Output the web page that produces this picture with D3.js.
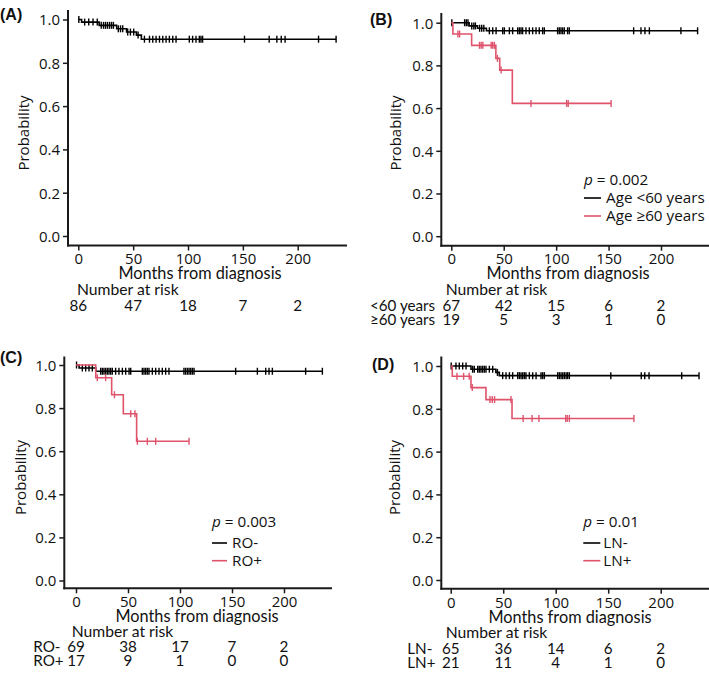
<!DOCTYPE html>
<html><head><meta charset="utf-8">
<script src="https://cdn.jsdelivr.net/npm/d3@7"></script>
<style>body{margin:0;background:#fff}</style>
</head><body>
<svg id="chart" width="709" height="674"></svg>
<script>
// ---------------- data ----------------
const yTicks = [0, 0.2, 0.4, 0.6, 0.8, 1.0];
const xTicks = [0, 50, 100, 150, 200];
const xTitle = "Months from diagnosis";
const yTitle = "Probability";
const riskTitle = "Number at risk";
const panelLabels = ["(A)", "(B)", "(C)", "(D)"];

// Panel A (all patients)
const aTimes = [0, 3, 19, 35, 44, 53, 57.5];
const aSurv = [1, 0.988, 0.973, 0.957, 0.942, 0.928, 0.909];
const aCensor = [0.5, 5.8, 9.5, 13.4, 17.3, 20.9, 23, 24.8, 26.6, 28.5, 30.3, 32, 36.5, 38.5, 40.5, 45, 47.5, 50.5, 54.5,
  60.3, 64.9, 67.9, 70.9, 74, 77, 80, 83, 86.1, 89.1, 101.2, 104.2, 107.3, 110.3, 111.8, 113.3, 151.5, 174, 181, 185, 188.5, 219, 235];
const aRisk = [86, 47, 18, 7, 2];

// Panel B (age)
const bNames = ["Age <60 years", "Age \u226560 years"];
const bRiskNames = ["<60 years", "\u226560 years"];
const bP = "0.002";
const bBlackTimes = [0, 17, 25, 33.5];
const bBlackSurv = [1, 0.985, 0.974, 0.962];
const bBlackCensor = [0.5, 12.7, 14.3, 15.9, 19.5, 21.5, 23, 27, 29, 31, 36.3, 39.5, 42.7, 49, 50.6, 55.4, 58.5, 63.3, 64.9, 66.5, 68,
  71.2, 74.4, 77.6, 80.8, 83.9, 87.1, 88.7, 101.4, 103, 104.6, 106.2, 107.8, 110.9, 112.5, 173.9, 180.9, 184.7, 188.9, 219, 234.9];
const bRedTimes = [0, 1.5, 19.4, 42.5, 46.2, 58.2];
const bRedSurv = [1, 0.947, 0.894, 0.833, 0.778, 0.622];
const bRedCensor = [6.3, 7.9, 26.9, 28.5, 30.1, 38, 39.5, 41.1, 44, 47.5, 76, 110, 111.5, 152.4];
const bRiskBlack = [67, 42, 15, 6, 2];
const bRiskRed = [19, 5, 3, 1, 0];

// Panel C (RO)
const cNames = ["RO-", "RO+"];
const cP = "0.003";
const cBlackTimes = [0, 3, 19];
const cBlackSurv = [1, 0.986, 0.971];
const cBlackCensor = [0.5, 6.1, 9.3, 12.5, 15.7, 23.7, 25.3, 26.9, 28.5, 30.1, 31.7, 33.3, 34.9, 38.1, 41.3, 44.6, 47.8, 51, 52.6,
  63.8, 65.4, 67, 68.6, 70.2, 73.4, 76.6, 79.8, 83, 86.2, 89.4, 103.8, 105.4, 107.1, 108.7, 110.3, 111.9, 113.5, 153.5, 174.4,
  182.4, 185.6, 188.8, 220.8, 236.9];
const cRedTimes = [0, 19, 34.3, 45.5, 58.3];
const cRedSurv = [1, 0.941, 0.862, 0.774, 0.646];
const cRedCensor = [20.5, 28.5, 37, 52.6, 56.7, 59, 68.6, 76.6, 108.7];
const cRiskBlack = [69, 38, 17, 7, 2];
const cRiskRed = [17, 9, 1, 0, 0];

// Panel D (LN)
const dNames = ["LN-", "LN+"];
const dP = "0.01";
const dBlackTimes = [0, 19.3, 43, 46.3];
const dBlackSurv = [1, 0.985, 0.97, 0.955];
const dBlackCensor = [0.5, 5, 8.2, 11.4, 14.6, 20.9, 22.5, 25.7, 27.2, 28.8, 30.4, 32, 33.6, 36.8, 40, 44.5, 49.5, 52.7, 55.9, 59,
  63.8, 65.4, 67, 68.6, 70.2, 71.7, 74.9, 78.1, 81.3, 86, 87.6, 89.2, 101.9, 103.5, 105.1, 106.7, 108.3, 109.9, 111.4, 113,
  152.5, 181.5, 184.8, 188.9, 220, 236.5];
const dRedTimes = [0, 1.5, 19.3, 33.6, 58.4];
const dRedSurv = [1, 0.952, 0.899, 0.843, 0.755];
const dRedCensor = [6, 12.3, 17.6, 20.5, 37.4, 39.6, 41.8, 57.4, 69, 77.5, 84, 109.5, 111, 113, 174.5];
const dRiskBlack = [65, 36, 14, 6, 2];
const dRiskRed = [21, 11, 4, 1, 0];

const BLACK = "#000000";
const RED = "#DF536B";

// ---------------- drawing ----------------
const svg = d3.select("#chart");
const tickFont = "'Open Sans', 'DejaVu Sans', sans-serif";
const calFont = "Lato, 'Open Sans', sans-serif";

function measure(text, family, size, weight, style) {
  const t = svg.append("text").attr("font-family", family).attr("font-size", size)
    .attr("font-weight", weight || "normal").attr("font-style", style || "normal").text(text);
  const w = t.node().getComputedTextLength();
  t.remove();
  return w;
}
const riskSize = 100 * 101.7 / measure(riskTitle, calFont, 100);
const rowSize = Math.min(riskSize, 15.2);
const xTitleSize = 100 * 163.3 / measure(xTitle, calFont, 100);
const legSize = 100 * 98.7 / measure(bNames[0], tickFont, 100);
const tickSize = 15;

function stepValue(times, surv, t) {
  let v = surv[0];
  for (let i = 0; i < times.length; i++) if (times[i] <= t) v = surv[i];
  return v;
}

function drawPanel(L, D) {
  const g = svg.append("g");
  const x = d3.scaleLinear().domain([0, 200]).range([L.x0, L.x200]);
  const y = d3.scaleLinear().domain([0, 1]).range([L.yBot, L.yTop]);

  // axis lines (L-shaped)
  g.append("line").attr("x1", L.axisX).attr("x2", L.axisX).attr("y1", L.axisTop).attr("y2", L.axisY + 1)
    .attr("stroke", "#1a1a1a").attr("stroke-width", 2);
  g.append("line").attr("x1", L.axisX - 1).attr("x2", L.axisRight).attr("y1", L.axisY).attr("y2", L.axisY)
    .attr("stroke", "#1a1a1a").attr("stroke-width", 2);

  // y axis ticks
  const yAx = g.append("g").attr("transform", `translate(${L.axisX},0)`)
    .call(d3.axisLeft(y).tickValues(yTicks).tickFormat(d3.format(".1f")).tickSize(5).tickPadding(3));
  yAx.select(".domain").remove();
  yAx.selectAll("line").attr("stroke", "#1a1a1a").attr("stroke-width", 1.5);
  yAx.selectAll("text").attr("font-family", tickFont).attr("font-size", tickSize).attr("fill", "#111")
    .attr("dy", null).attr("dominant-baseline", null).attr("y", tickSize * 0.36);

  // x axis ticks
  const xAx = g.append("g").attr("transform", `translate(0,${L.axisY})`)
    .call(d3.axisBottom(x).tickValues(xTicks).tickFormat(d3.format("d")).tickSize(5));
  xAx.select(".domain").remove();
  xAx.selectAll("line").attr("stroke", "#1a1a1a").attr("stroke-width", 1.5);
  xAx.selectAll("text").attr("font-family", tickFont).attr("font-size", tickSize).attr("fill", "#111")
    .attr("dy", null).attr("y", L.tickLabY - L.axisY + tickSize * 0.36);

  // titles
  g.append("text").attr("transform", `translate(${L.probX},${L.probY}) rotate(-90)`)
    .attr("text-anchor", "middle").attr("y", tickSize * 0.36)
    .attr("font-family", tickFont).attr("font-size", tickSize).attr("fill", "#111").text(yTitle);
  g.append("text").attr("x", L.xTitleX).attr("y", L.xTitleY + xTitleSize * 0.36).attr("text-anchor", "middle")
    .attr("font-family", calFont).attr("font-size", xTitleSize).attr("fill", "#111").text(xTitle);
  g.append("text").attr("x", L.labX).attr("y", L.labY).attr("font-family", "'Liberation Sans', Arial, sans-serif")
    .attr("font-weight", "bold").attr("font-size", 16).attr("fill", "#111").text(L.label);

  // curves
  const line = d3.line().x(d => x(d[0])).y(d => y(d[1])).curve(d3.curveStepAfter);
  D.curves.forEach(c => {
    const end = Math.max(d3.max(c.censor), d3.max(c.times));
    const pts = c.times.map((t, i) => [t, c.surv[i]]);
    pts.push([end, c.surv[c.surv.length - 1]]);
    g.append("path").attr("d", line(pts)).attr("fill", "none").attr("stroke", c.color).attr("stroke-width", 1.6);
    g.selectAll(null).data(c.censor).enter().append("line")
      .attr("x1", t => x(t)).attr("x2", t => x(t))
      .attr("y1", t => y(stepValue(c.times, c.surv, t)) - 3.5)
      .attr("y2", t => y(stepValue(c.times, c.surv, t)) + 3.5)
      .attr("stroke", c.color).attr("stroke-width", 1.4);
  });

  // legend
  if (D.legend) {
    const lg = D.legend;
    const pt = g.append("text").attr("x", L.legX).attr("y", L.legPY + legSize * 0.36)
      .attr("font-family", tickFont).attr("font-size", legSize).attr("fill", "#111");
    pt.append("tspan").attr("font-style", "italic").text("p");
    pt.append("tspan").text(" = " + lg.p);
    lg.items.forEach((it, i) => {
      const yy = L.legItemY[i];
      g.append("line").attr("x1", L.legX).attr("x2", L.legX + L.legLineW).attr("y1", yy).attr("y2", yy)
        .attr("stroke", it.color).attr("stroke-width", 1.6);
      g.append("text").attr("x", L.legX + L.legLineW + L.legGap).attr("y", yy + legSize * 0.36)
        .attr("font-family", tickFont).attr("font-size", legSize).attr("fill", "#111").text(it.name);
    });
  }

  // risk table
  g.append("text").attr("x", L.narX).attr("y", L.narY + riskSize * 0.36)
    .attr("font-family", calFont).attr("font-size", riskSize).attr("fill", "#111").text(riskTitle);
  D.risk.forEach((r, i) => {
    const yy = L.rowY[i] + rowSize * 0.36;
    if (r.name) g.append("text").attr("x", L.rowLabX).attr("y", yy)
      .attr("font-family", calFont).attr("font-size", rowSize).attr("fill", "#111").text(r.name);
    g.selectAll(null).data(r.values).enter().append("text")
      .attr("x", (v, j) => x(xTicks[j])).attr("y", yy).attr("text-anchor", "middle")
      .attr("font-family", calFont).attr("font-size", rowSize).attr("fill", "#111").text(v => v);
  });
}

// layouts
const layoutA = { x0: 78.3, x200: 297.7, yTop: 19.5, yBot: 236, axisX: 68, axisY: 245.5, axisTop: 10, axisRight: 347,
  tickLabY: 258.5, probX: 24, probY: 133, xTitleX: 200, xTitleY: 273.5, labX: 0, labY: 19.5, label: panelLabels[0],
  narX: 77, narY: 289.5, rowY: [305.5], rowLabX: 0 };
const layoutB = { x0: 451.3, x200: 661, yTop: 22.7, yBot: 236.2, axisX: 441.3, axisY: 245.7, axisTop: 13, axisRight: 712,
  tickLabY: 258.5, probX: 395.5, probY: 133, xTitleX: 568, xTitleY: 273.5, labX: 370, labY: 24.5, label: panelLabels[1],
  legX: 584, legPY: 180, legItemY: [198, 216], legLineW: 17, legGap: 5,
  narX: 445.7, narY: 289.5, rowY: [305.5, 319.5], rowLabX: 370 };
const layoutC = { x0: 76, x200: 284, yTop: 365, yBot: 580.5, axisX: 64.3, axisY: 588.3, axisTop: 356.5, axisRight: 332,
  tickLabY: 601.7, probX: 20.5, probY: 477.5, xTitleX: 197, xTitleY: 616.5, labX: 0, labY: 363, label: panelLabels[2],
  legX: 212, legPY: 522, legItemY: [543, 560.7], legLineW: 15, legGap: 5,
  narX: 71.7, narY: 631, rowY: [647, 661], rowLabX: 33.3 };
const layoutD = { x0: 450.7, x200: 660.7, yTop: 366, yBot: 580, axisX: 441.3, axisY: 588.7, axisTop: 356.5, axisRight: 712,
  tickLabY: 602.5, probX: 394.5, probY: 477.5, xTitleX: 570, xTitleY: 617.5, labX: 372, labY: 370, label: panelLabels[3],
  legX: 583.3, legPY: 522, legItemY: [543, 560.7], legLineW: 17, legGap: 3,
  narX: 445.7, narY: 632, rowY: [648.5, 662.5], rowLabX: 407.3 };

drawPanel(layoutA, {
  curves: [{ times: aTimes, surv: aSurv, censor: aCensor, color: BLACK }],
  risk: [{ name: null, values: aRisk }]
});
drawPanel(layoutB, {
  curves: [{ times: bBlackTimes, surv: bBlackSurv, censor: bBlackCensor, color: BLACK },
           { times: bRedTimes, surv: bRedSurv, censor: bRedCensor, color: RED }],
  legend: { p: bP, items: [{ name: bNames[0], color: BLACK }, { name: bNames[1], color: RED }] },
  risk: [{ name: bRiskNames[0], values: bRiskBlack }, { name: bRiskNames[1], values: bRiskRed }]
});
drawPanel(layoutC, {
  curves: [{ times: cBlackTimes, surv: cBlackSurv, censor: cBlackCensor, color: BLACK },
           { times: cRedTimes, surv: cRedSurv, censor: cRedCensor, color: RED }],
  legend: { p: cP, items: [{ name: cNames[0], color: BLACK }, { name: cNames[1], color: RED }] },
  risk: [{ name: cNames[0], values: cRiskBlack }, { name: cNames[1], values: cRiskRed }]
});
drawPanel(layoutD, {
  curves: [{ times: dBlackTimes, surv: dBlackSurv, censor: dBlackCensor, color: BLACK },
           { times: dRedTimes, surv: dRedSurv, censor: dRedCensor, color: RED }],
  legend: { p: dP, items: [{ name: dNames[0], color: BLACK }, { name: dNames[1], color: RED }] },
  risk: [{ name: dNames[0], values: dRiskBlack }, { name: dNames[1], values: dRiskRed }]
});
</script>
</body></html>
